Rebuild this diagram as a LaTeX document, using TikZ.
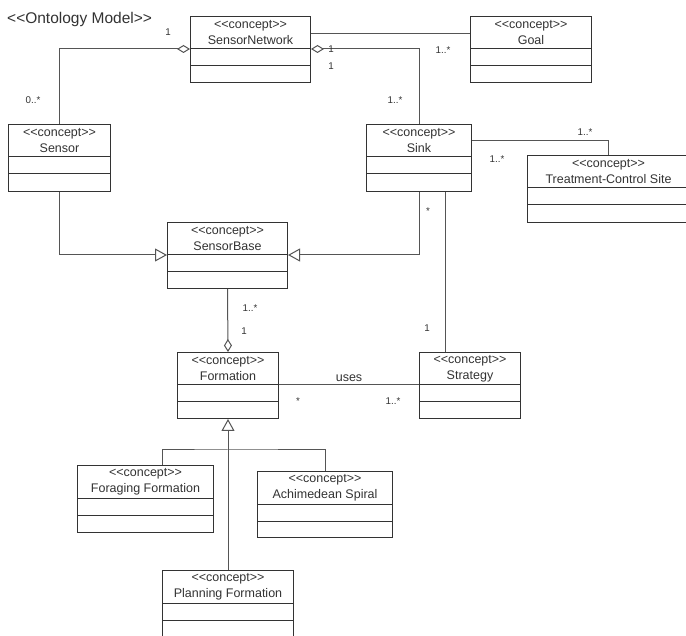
\documentclass[tikz,border=0pt]{standalone}
\usepackage{fontspec}
\setmainfont{Liberation Sans}[Ligatures=TeXOff]
\usetikzlibrary{arrows.meta}
\definecolor{boxc}{HTML}{333333}
\definecolor{linec}{HTML}{555555}
\definecolor{txtc}{HTML}{333333}
\tikzset{
  umlbox/.style={draw=boxc, line width=1pt, fill=white, inner sep=0pt, anchor=north west},
  divline/.style={draw=boxc, line width=1pt},
  boxtext/.style={text=txtc, font=\fontsize{12.5}{16}\selectfont, align=center, inner sep=0pt},
  conn/.style={draw=linec, line width=1pt},
  agg/.style={conn, {Diamond[open, length=13pt, width=8pt, line width=1pt]}-},
  aggend/.style={conn, -{Diamond[open, length=13pt, width=8pt, line width=1pt]}},
  gen/.style={conn, -{Triangle[open, length=12pt, width=13pt, line width=1pt]}},
  mult/.style={text=txtc, font=\fontsize{9.8}{11}\selectfont, inner sep=0pt},
}
\newcommand\umlclass[6]{% name, x, y, width, height, title
  \node[umlbox, minimum width=#4pt, minimum height=#5pt] (#1) at (#2,#3) {};
  \draw[divline] ([yshift=-33pt]#1.north west) -- ([yshift=-33pt]#1.north east);
  \draw[divline] ([yshift=-50pt]#1.north west) -- ([yshift=-50pt]#1.north east);
  \node[boxtext] (#1-t) at ([yshift=-16.5pt]#1.north) {<<concept>>\\#6};
}
\begin{document}
\begin{tikzpicture}[x=1pt, y=-1pt]
\useasboundingbox (0,0) rectangle (686,636);
\fill[white] (0,0) rectangle (686,636);

\node[text=txtc, font=\fontsize{15.5}{18}\selectfont, anchor=west, inner sep=0pt] (title) at (7,19) {<<Ontology Model>>};

% classes
\umlclass{sn}{190}{16}{120}{66}{SensorNetwork}
\umlclass{goal}{470}{16}{121}{66}{Goal}
\umlclass{sensor}{8}{124}{102}{67}{Sensor}
\umlclass{sink}{366}{124}{105}{67}{Sink}
\umlclass{tcs}{527}{155}{162}{67}{Treatment-Control Site}
\umlclass{sb}{167}{222}{120}{66}{SensorBase}
\umlclass{form}{177}{352}{101}{66}{Formation}
\umlclass{strat}{419}{352}{101}{66}{Strategy}
\umlclass{forag}{77}{465}{136}{67}{Foraging Formation}
\umlclass{achim}{257}{471}{135}{66}{Achimedean Spiral}
\umlclass{plan}{162}{570}{131}{75}{Planning Formation}

% connectors
\draw[agg] ([yshift=-33pt]sn.north west) -| (sensor.north);
\draw[agg] ([yshift=-33pt]sn.north east) -| (sink.north);
\draw[conn] ([yshift=16pt]sn.east) -- ([yshift=16pt]sn.east -| goal.west);
\draw[conn] ([yshift=-17pt]sink.north east) -| (tcs.north);
\draw[gen] (sensor.south) |- ([yshift=-33pt]sb.north west);
\draw[gen] (sink.south) |- ([yshift=-33pt]sb.north east);
\draw[conn] ([xshift=26pt]sink.south) -- ([xshift=26pt]sink.south |- strat.north);
\draw[aggend] (sb.south) -- (form.north);
\draw[conn] ([yshift=-33pt]form.north east) -- node[boxtext, above=3pt] (uses) {uses} ([yshift=-33pt]strat.north west);
\coordinate (bar) at (228,450);
\draw[gen] (plan.north) -- (form.south);
\draw[conn] ([xshift=17pt]forag.north) |- (bar) -| (achim.north);

% multiplicities
\node[mult] (m1) at (168,32) {1};
\node[mult] (m2) at (33,100) {0..*};
\node[mult] (m3) at (331,49) {1};
\node[mult] (m4) at (331,66) {1};
\node[mult] (m5) at (395,100) {1..*};
\node[mult] (m6) at (443,50) {1..*};
\node[mult] (m7) at (585,132) {1..*};
\node[mult] (m8) at (497,159) {1..*};
\node[mult] (m9) at (428,211) {*};
\node[mult] (m10) at (250,308) {1..*};
\node[mult] (m11) at (244,331) {1};
\node[mult] (m12) at (427,328) {1};
\node[mult] (m13) at (298,401) {*};
\node[mult] (m14) at (393,401) {1..*};
\end{tikzpicture}
\end{document}
